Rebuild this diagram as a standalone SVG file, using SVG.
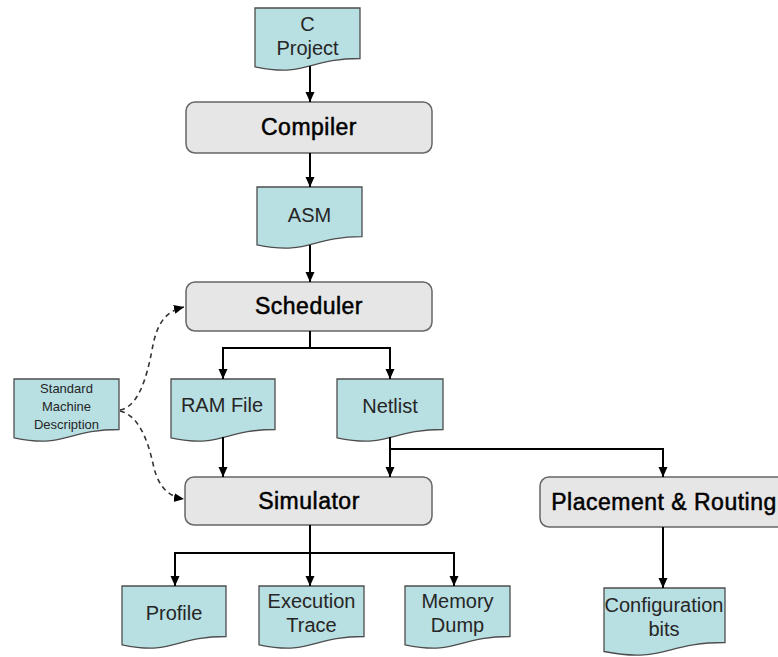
<svg xmlns="http://www.w3.org/2000/svg" width="778" height="657" viewBox="0 0 778 657">
<defs>
<marker id="ah" markerUnits="userSpaceOnUse" markerWidth="10" markerHeight="10" refX="10" refY="4.5" orient="auto">
<path d="M0,0 L10,4.5 L0,9 Z" fill="#000"/>
</marker>
</defs>
<style>
.doc{fill:#B8DFE2;stroke:#4D4D4D;stroke-width:1.3}
.box{fill:#E6E6E6;stroke:#666;stroke-width:1.5}
.dt{font-family:"Liberation Sans",Arial,sans-serif;font-size:20px;fill:#262626;text-anchor:middle}
.bt{font-family:"Liberation Sans",Arial,sans-serif;font-size:23px;fill:#000;stroke:#000;stroke-width:0.5;letter-spacing:0.5px;text-anchor:middle}
.st{font-family:"Liberation Sans",Arial,sans-serif;font-size:13px;fill:#262626;text-anchor:middle}
.c{fill:none;stroke:#000;stroke-width:2}
.d{fill:none;stroke:#333;stroke-width:1.6;stroke-dasharray:5,4}
</style>
<rect width="778" height="657" fill="#fff"/>
<g id="cproject"><path class="doc" d="M255,8 H360 V58.5 C307.5,58.5 307.5,77.7 255,66.8 Z"/><text class="dt" x="307.5" y="31">C</text><text class="dt" x="307.5" y="55">Project</text></g>
<g id="compiler"><rect class="box" x="186" y="102" width="246" height="51" rx="9"/><text class="bt" x="309" y="135">Compiler</text></g>
<g id="asm"><path class="doc" d="M257,187 H362 V236.7 C309.5,236.7 309.5,255.6 257,244.9 Z"/><text class="dt" x="309.5" y="222">ASM</text></g>
<g id="scheduler"><rect class="box" x="186" y="282" width="246" height="49" rx="9"/><text class="bt" x="309" y="314">Scheduler</text></g>
<g id="smd"><path class="doc" d="M14,379 H119 V429.5 C66.5,429.5 66.5,448.7 14,437.8 Z"/><text class="st" x="66.5" y="393">Standard</text><text class="st" x="66.5" y="411">Machine</text><text class="st" x="66.5" y="429">Description</text></g>
<g id="ramfile"><path class="doc" d="M171,379 H275 V429.5 C223,429.5 223,448.7 171,437.8 Z"/><text class="dt" x="222" y="412">RAM File</text></g>
<g id="netlist"><path class="doc" d="M337,379 H443 V429.5 C390,429.5 390,448.7 337,437.8 Z"/><text class="dt" x="390" y="413">Netlist</text></g>
<g id="simulator"><rect class="box" x="185" y="477" width="247" height="48" rx="9"/><text class="bt" x="309" y="509">Simulator</text></g>
<g id="placement"><rect class="box" x="540" y="477" width="248" height="50" rx="9"/><text class="bt" x="664" y="510">Placement &amp; Routing</text></g>
<g id="profile"><path class="doc" d="M122,586 H226 V636.5 C174,636.5 174,655.7 122,644.8 Z"/><text class="dt" x="174" y="620">Profile</text></g>
<g id="exectrace"><path class="doc" d="M259,586 H364 V636.5 C311.5,636.5 311.5,655.7 259,644.8 Z"/><text class="dt" x="311.5" y="608">Execution</text><text class="dt" x="311.5" y="632">Trace</text></g>
<g id="memdump"><path class="doc" d="M405,586 H510 V636.5 C457.5,636.5 457.5,655.7 405,644.8 Z"/><text class="dt" x="457.5" y="608">Memory</text><text class="dt" x="457.5" y="632">Dump</text></g>
<g id="configbits"><path class="doc" d="M604,588 H725 V642.5 C664.5,642.5 664.5,663.3 604,651.5 Z"/><text class="dt" x="664" y="612">Configuration</text><text class="dt" x="664" y="636">bits</text></g>
<g id="connectors">
<path class="c" d="M310,66 V102" marker-end="url(#ah)"/>
<path class="c" d="M310,153 V187" marker-end="url(#ah)"/>
<path class="c" d="M310,245 V282" marker-end="url(#ah)"/>
<path class="c" d="M310,331 V348"/>
<path class="c" d="M223,348 H390"/>
<path class="c" d="M223,347 V379" marker-end="url(#ah)"/>
<path class="c" d="M390,347 V379" marker-end="url(#ah)"/>
<path class="c" d="M223,437 V477" marker-end="url(#ah)"/>
<path class="c" d="M390,437 V477" marker-end="url(#ah)"/>
<path class="c" d="M390,449 H663 V477" marker-end="url(#ah)"/>
<path class="c" d="M310,525 V586" marker-end="url(#ah)"/>
<path class="c" d="M175,553 H454"/>
<path class="c" d="M175,552 V586" marker-end="url(#ah)"/>
<path class="c" d="M454,552 V586" marker-end="url(#ah)"/>
<path class="c" d="M663,527 V588" marker-end="url(#ah)"/>
<path class="d" d="M120,410 C142,406 149,365 153,345 C158,320 168,311 184,307" marker-end="url(#ah)"/>
<path class="d" d="M120,411 C142,416 150,450 154,468 C159,488 170,497 184,499" marker-end="url(#ah)"/>
</g>
</svg>
